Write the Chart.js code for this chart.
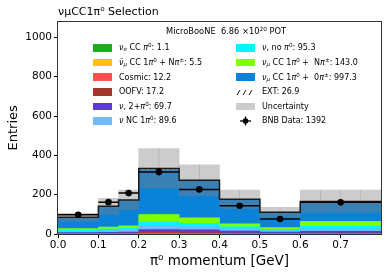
<!DOCTYPE html>
<html lang="en">
<head>
<meta charset="UTF-8">
<title>νμCC1π0 Selection</title>
<script src="https://cdn.jsdelivr.net/npm/chart.js"></script>
<style>
    body { margin: 0; background: #fff; }
    .janela { position: relative; width: 390px; height: 279px; font-family: "DejaVu Sans", sans-serif; color: #000; }
    .janela canvas { position: absolute; left: 0; top: 0; }
    .pot { position: absolute; left: 166px; top: 26px; font-size: 8.3px; white-space: nowrap; }
    .leg { position: absolute; font-size: 8px; }
    .leg div { display: flex; align-items: center; height: 14.6px; white-space: nowrap; }
    .box { width: 19px; height: 7.5px; margin-right: 7px; flex: none; }
    .leg svg { margin-right: 7px; flex: none; }
    sub, sup { font-size: 70%; line-height: 0; }
    sup { vertical-align: 0.55em; }
    sub { vertical-align: -0.25em; }
</style>
</head>
<body>
<div class="janela">
    <canvas id="grafico" width="390" height="279"></canvas>

    <div class="pot">MicroBooNE&nbsp;&nbsp;6.86 ×10<sup>20</sup> POT</div>

    <div class="leg" style="left:93px; top:40.7px;">
        <div><span class="box" style="background:#1daa1d"></span><span><i>ν<sub>e</sub></i> CC <i>π</i><sup>0</sup>: 1.1</span></div>
        <div><span class="box" style="background:#fcc00f"></span><span><i>ν̄<sub>μ</sub></i> CC 1<i>π</i><sup>0</sup> + N<i>π</i><sup>±</sup>: 5.5</span></div>
        <div><span class="box" style="background:#ff4f4f"></span><span>Cosmic: 12.2</span></div>
        <div><span class="box" style="background:#a0352a"></span><span>OOFV: 17.2</span></div>
        <div><span class="box" style="background:#5a3cc8"></span><span><i>ν</i>, 2+<i>π</i><sup>0</sup>: 69.7</span></div>
        <div><span class="box" style="background:#73b9ff"></span><span><i>ν</i> NC 1<i>π</i><sup>0</sup>: 89.6</span></div>
    </div>

    <div class="leg" style="left:236px; top:40.7px;">
        <div><span class="box" style="background:#00f5ff"></span><span><i>ν</i>, no <i>π</i><sup>0</sup>: 95.3</span></div>
        <div><span class="box" style="background:#80ff00"></span><span><i>ν<sub>μ</sub></i> CC 1<i>π</i><sup>0</sup> + &nbsp;N<i>π</i><sup>±</sup>: 143.0</span></div>
        <div><span class="box" style="background:#0a82d8"></span><span><i>ν<sub>μ</sub></i> CC 1<i>π</i><sup>0</sup> + &nbsp;0<i>π</i><sup>±</sup>: 997.3</span></div>
        <div><svg width="19" height="8"><g stroke="#000" stroke-width="0.9"><line x1="1" y1="7" x2="4" y2="2"/><line x1="7" y1="7" x2="10" y2="2"/><line x1="13" y1="7" x2="16" y2="2"/></g></svg><span>EXT: 26.9</span></div>
        <div><span class="box" style="background:#cccccc"></span><span>Uncertainty</span></div>
        <div><svg width="19" height="10"><g stroke="#000" stroke-width="1.3"><line x1="4" y1="5" x2="15" y2="5"/><line x1="9.5" y1="0.5" x2="9.5" y2="9.5"/></g><circle cx="9.5" cy="5" r="2.8" fill="#000"/></svg><span>BNB Data: 1392</span></div>
    </div>
</div>

<script>
    // bordas dos bins (GeV)
    var binEdges = [0, 0.1, 0.15, 0.2, 0.3, 0.4, 0.5, 0.6, 0.8];

    // componentes empilhadas, de baixo para cima
    var nueCC   = [0.1, 0.1, 0.1, 0.2, 0.2, 0.1, 0.1, 0.2];
    var numubar = [0.3, 0.5, 0.6, 1.2, 1.1, 0.7, 0.4, 0.7];
    var cosmic  = [1.0, 1.2, 1.5, 2.8, 2.3, 1.3, 0.9, 1.2];
    var oofv    = [1.2, 1.6, 2.0, 3.8, 3.2, 2.2, 1.2, 2.0];
    var nu2pi0  = [4, 5, 6, 14, 14, 10, 6.7, 10];
    var nc1pi0  = [7, 8, 9, 20, 16, 10.6, 7, 12];
    var nopi0   = [7, 9, 10, 19, 18, 11.3, 8, 13];
    var cc1piN  = [7, 10, 12, 38, 28, 15, 8, 25];
    var cc1pi0  = [55.9, 103.6, 129.3, 228, 185.2, 122.8, 76.7, 95.8];
    var ext     = [1.5, 2, 2.5, 6, 5, 3, 2, 4.9];

    // banda de incerteza
    var uncLo = [65, 100, 122, 233, 194, 130, 86, 110];
    var uncHi = [105, 182, 224, 434, 352, 224, 136, 224];

    // dados BNB
    var bnbData = [98, 162, 208, 316, 227, 144, 76, 161];
    var bnbErr  = [10, 13, 14, 18, 15, 12, 9, 13];

    var yTicks = [0, 200, 400, 600, 800, 1000];
    var xTicks = [0, 0.1, 0.2, 0.3, 0.4, 0.5, 0.6, 0.7];

    var fonte = "DejaVu Sans";

    // cada bin vira fatias de 0.05 no eixo de categorias
    var slotW = 0.05;
    var nSlots = Math.round(binEdges[binEdges.length - 1] / slotW);
    var slotBin = [];
    var slotLabels = [];
    for (var i = 0; i < nSlots; i++) {
        var c = (i + 0.5) * slotW;
        slotLabels.push(c.toFixed(3));
        for (var b = 0; b < binEdges.length - 1; b++) {
            if (c >= binEdges[b] && c < binEdges[b + 1]) slotBin.push(b);
        }
    }
    function porSlot(arr) {
        return slotBin.map(function (b) { return arr[b]; });
    }

    var ctx = document.getElementById('grafico').getContext('2d');

    // hachura do EXT
    var pc = document.createElement('canvas');
    pc.width = 5; pc.height = 5;
    var pg = pc.getContext('2d');
    pg.strokeStyle = '#000';
    pg.lineWidth = 0.8;
    pg.beginPath(); pg.moveTo(0, 5); pg.lineTo(5, 0); pg.stroke();
    var hachura = ctx.createPattern(pc, 'repeat');

    var componentes = [
        { label: 'nue CC pi0', data: nueCC, cor: '#1daa1d' },
        { label: 'numubar', data: numubar, cor: '#fcc00f' },
        { label: 'Cosmic', data: cosmic, cor: '#ff4f4f' },
        { label: 'OOFV', data: oofv, cor: '#a0352a' },
        { label: 'nu 2+pi0', data: nu2pi0, cor: '#5a3cc8' },
        { label: 'nu NC 1pi0', data: nc1pi0, cor: '#73b9ff' },
        { label: 'nu no pi0', data: nopi0, cor: '#00f5ff' },
        { label: 'numu CC 1pi0 Npi', data: cc1piN, cor: '#80ff00' },
        { label: 'numu CC 1pi0 0pi', data: cc1pi0, cor: '#0a82d8' },
        { label: 'EXT', data: ext, cor: hachura }
    ];

    var datasets = componentes.map(function (comp) {
        return {
            type: 'bar',
            label: comp.label,
            data: porSlot(comp.data),
            backgroundColor: comp.cor,
            borderWidth: 0,
            barPercentage: 1,
            categoryPercentage: 1,
            grouped: false,
            xAxisID: 'x',
            yAxisID: 'y',
            order: 5
        };
    });

    // incerteza: barra flutuante cinza translúcida
    var uncSlots = slotBin.map(function (b) { return [uncLo[b], uncHi[b]]; });
    datasets.push({
        type: 'bar',
        label: 'Uncertainty',
        data: uncSlots,
        backgroundColor: 'rgba(128,128,128,0.4)',
        borderWidth: 0,
        barPercentage: 1,
        categoryPercentage: 1,
        grouped: false,
        xAxisID: 'xu',
        yAxisID: 'yu',
        order: 4
    });

    // contorno do total MC
    var totalPts = [];
    for (var b = 0; b < binEdges.length - 1; b++) {
        var tot = 0;
        componentes.forEach(function (comp) { tot += comp.data[b]; });
        totalPts.push({ x: binEdges[b], y: tot }, { x: binEdges[b + 1], y: tot });
    }
    datasets.push({
        type: 'line',
        label: 'Total',
        data: totalPts,
        borderColor: '#1a1a1a',
        borderWidth: 1.5,
        pointRadius: 0,
        tension: 0,
        fill: false,
        xAxisID: 'x2',
        yAxisID: 'yu',
        order: 3
    });

    // barras de erro dos dados
    var errPts = [];
    var dataPts = [];
    for (var b = 0; b < binEdges.length - 1; b++) {
        var meio = (binEdges[b] + binEdges[b + 1]) / 2;
        errPts.push({ x: binEdges[b], y: bnbData[b] }, { x: binEdges[b + 1], y: bnbData[b] }, { x: binEdges[b + 1], y: null });
        errPts.push({ x: meio, y: bnbData[b] - bnbErr[b] }, { x: meio, y: bnbData[b] + bnbErr[b] }, { x: meio, y: null });
        dataPts.push({ x: meio, y: bnbData[b] });
    }
    datasets.push({
        type: 'line',
        label: 'Erro',
        data: errPts,
        borderColor: '#000',
        borderWidth: 1.5,
        pointRadius: 0,
        spanGaps: false,
        fill: false,
        xAxisID: 'x2',
        yAxisID: 'yu',
        order: 2
    });
    datasets.push({
        type: 'scatter',
        label: 'BNB Data',
        data: dataPts,
        backgroundColor: '#000',
        borderWidth: 0,
        pointRadius: 3.3,
        xAxisID: 'x2',
        yAxisID: 'yu',
        order: 1
    });

    // moldura do gráfico
    const moldura = {
        id: 'moldura',
        afterDraw(chart) {
            const a = chart.chartArea;
            const g = chart.ctx;
            g.save();
            g.strokeStyle = '#333';
            g.lineWidth = 1;
            g.strokeRect(Math.round(a.left) - 0.5, Math.round(a.top) - 0.5, Math.round(a.right - a.left) + 1, Math.round(a.bottom - a.top) + 1);
            g.restore();
        }
    };

    const config = {
        type: 'bar',
        data: { labels: slotLabels, datasets: datasets },
        options: {
            responsive: false,
            animation: false,
            events: [],
            layout: { padding: { left: 0, right: 9, top: 0, bottom: 0 } },
            plugins: {
                legend: { display: false },
                tooltip: { enabled: false },
                title: {
                    display: true,
                    text: 'νμCC1π⁰ Selection',
                    align: 'start',
                    fullSize: false,
                    color: '#000',
                    font: { family: fonte, size: 11, weight: 'normal' },
                    padding: { top: 6, bottom: 2.5 }
                }
            },
            scales: {
                x: { type: 'category', labels: slotLabels, display: false, stacked: true, offset: true },
                xu: { type: 'category', labels: slotLabels, display: false, offset: true },
                x2: {
                    type: 'linear',
                    position: 'bottom',
                    offset: false,
                    min: 0,
                    max: binEdges[binEdges.length - 1],
                    afterBuildTicks: function (s) { s.ticks = xTicks.map(function (v) { return { value: v }; }); },
                    afterFit: function (s) { s.height = 45; },
                    ticks: {
                        color: '#000',
                        padding: 1,
                        maxRotation: 0,
                        autoSkip: false,
                        font: { family: fonte, size: 10.5 },
                        callback: function (v) { return v.toFixed(1); }
                    },
                    grid: { offset: false, drawOnChartArea: false, drawTicks: true, tickLength: 4, tickColor: '#000' },
                    border: { display: false },
                    title: {
                        display: true,
                        text: 'π⁰ momentum [GeV]',
                        color: '#000',
                        font: { family: fonte, size: 13.5 },
                        padding: { top: 0, bottom: 9 }
                    }
                },
                y: {
                    stacked: true,
                    min: 0,
                    max: 1080,
                    afterBuildTicks: function (s) { s.ticks = yTicks.map(function (v) { return { value: v }; }); },
                    afterFit: function (s) { s.width = 58; },
                    ticks: {
                        color: '#000',
                        padding: 2,
                        font: { family: fonte, size: 10.5 },
                        callback: function (v) { return String(v); }
                    },
                    grid: { drawOnChartArea: false, drawTicks: true, tickLength: 4, tickColor: '#000' },
                    border: { display: false },
                    title: {
                        display: true,
                        text: 'Entries',
                        color: '#000',
                        font: { family: fonte, size: 13 },
                        padding: { top: 6, bottom: 0 }
                    }
                },
                yu: { display: false, min: 0, max: 1080 }
            }
        },
        plugins: [moldura]
    };

    let myChart = new Chart(ctx, config);
</script>
</body>
</html>
